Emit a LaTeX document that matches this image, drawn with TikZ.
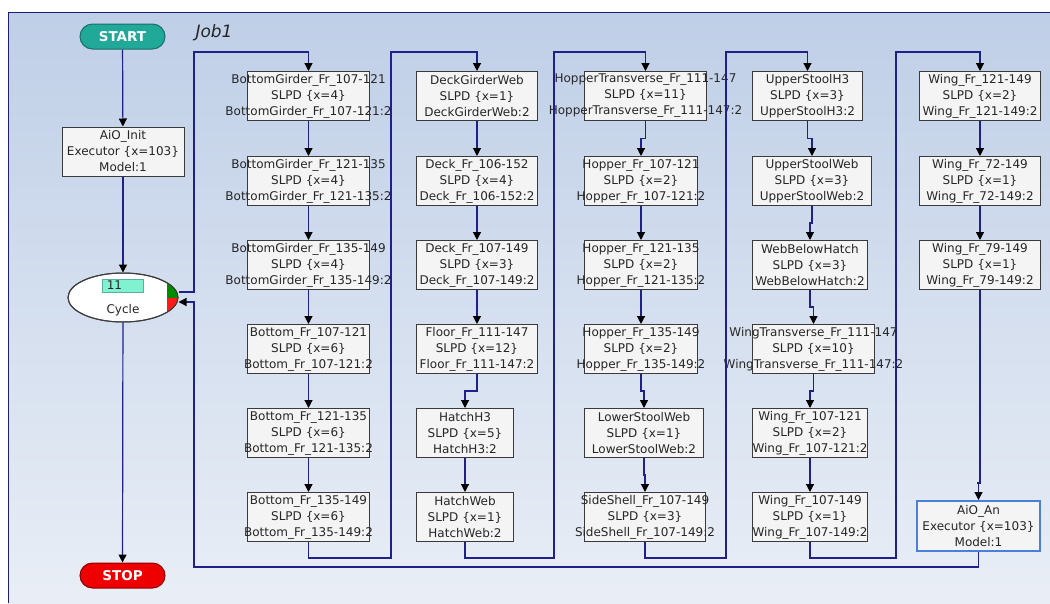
\documentclass[tikz,border=0pt]{standalone}
\usepackage{fontspec}
\setmainfont{DejaVu Sans}
\usetikzlibrary{positioning, arrows.meta, calc, shapes.geometric}
\definecolor{wfnavy}{HTML}{20208A}
\definecolor{wfframe}{HTML}{1F1F7A}
\definecolor{wfline}{HTML}{3A3A3A}
\definecolor{wffill}{HTML}{F4F4F4}
\definecolor{wftext}{HTML}{262626}
\definecolor{wfbgtop}{HTML}{BFCFE7}
\definecolor{wfbgbot}{HTML}{E9EEF6}
\definecolor{wfteal}{HTML}{20A898}
\definecolor{wftealdk}{HTML}{1B6F66}
\definecolor{wfred}{HTML}{EE0000}
\definecolor{wfreddk}{HTML}{8A0000}
\definecolor{wfanblue}{HTML}{4A80DA}
\definecolor{wfcount}{HTML}{80F2CF}
\definecolor{wfcountdk}{HTML}{5AAFA0}
\definecolor{wfgreen}{HTML}{008A00}
\definecolor{wfcapred}{HTML}{FF1A1A}

\begin{document}
\begin{tikzpicture}[x=1pt, y=-1pt,
    conn/.style={wfnavy, line width=1.2pt, -{Triangle[width=8pt, length=8pt, color=black]}},
    jobbox/.style={draw=wfline, fill=wffill, line width=1pt, anchor=north west,
      minimum height=49pt, inner sep=0pt},
    jobtext/.style={align=center, font=\fontsize{12}{16}\selectfont, text=wftext, inner sep=0pt},
    pill/.style={rounded corners=12.5pt, line width=1pt, minimum width=85pt, minimum height=25pt,
      inner sep=0pt, text=white, font=\fontsize{13.5}{16}\selectfont\bfseries}]
  % background
  \useasboundingbox (0,0) rectangle (1050,603);
  \fill[white] (0,0) rectangle (1050,603);
  \shade[top color=wfbgtop, bottom color=wfbgbot] (8,12) rectangle (1050,603);
  \draw[wfframe, line width=1pt] (8,603) |- (1050,12);
  \node[font=\fontsize{17}{20}\selectfont\itshape, text=wftext, anchor=west] (job) at (192,33) {Job1};

  % start, init, cycle, stop
  \node[pill, draw=wftealdk, fill=wfteal] (start) at (122.5,36.5) {START};
  \node[jobbox, anchor=center, minimum width=122pt, align=center,
    font=\fontsize{12}{16}\selectfont, text=wftext] (init) at (123,151.5)
    {AiO\_Init\\Executor \{x=103\}\\Model:1};
  \node[ellipse, draw=wfline, fill=white, line width=1pt, minimum width=110pt,
    minimum height=49pt, inner sep=0pt] (cyc) at (123,297.5) {};
  \begin{scope}
    \clip (cyc.center) ellipse [x radius=55, y radius=24.5];
    \fill[wfgreen] (167,280) rectangle (181,298);
    \fill[wfcapred] (167,298) rectangle (181,316);
  \end{scope}
  \draw[wfline, line width=1pt] (cyc.center) ellipse [x radius=55, y radius=24.5];
  \node[draw=wfcountdk, fill=wfcount, line width=0.8pt, minimum width=41pt,
    minimum height=13pt, inner sep=0pt] (cnt) at (122.5,285.5) {};
  \node[anchor=west, inner sep=0pt, font=\fontsize{12}{14}\selectfont, text=wftext]
    (cntval) at ([xshift=5pt]cnt.west) {11};
  \node[inner sep=0pt, font=\fontsize{12}{14}\selectfont, text=wftext] (cyctxt) at (123,310) {Cycle};
  \node[pill, draw=wfreddk, fill=wfred] (stop) at (122.5,575.5) {STOP};

  % column 1
  \node[jobbox, minimum width=122pt, label={[jobtext]center:{BottomGirder\_Fr\_107-121\\SLPD \{x=4\}\\BottomGirder\_Fr\_107-121:2}}] (b11) at (247,71) {};
  \node[jobbox, minimum width=122pt, label={[jobtext]center:{BottomGirder\_Fr\_121-135\\SLPD \{x=4\}\\BottomGirder\_Fr\_121-135:2}}] (b12) at (247,156) {};
  \node[jobbox, minimum width=122pt, label={[jobtext]center:{BottomGirder\_Fr\_135-149\\SLPD \{x=4\}\\BottomGirder\_Fr\_135-149:2}}] (b13) at (247,240) {};
  \node[jobbox, minimum width=122pt, label={[jobtext]center:{Bottom\_Fr\_107-121\\SLPD \{x=6\}\\Bottom\_Fr\_107-121:2}}] (b14) at (247,324) {};
  \node[jobbox, minimum width=122pt, label={[jobtext]center:{Bottom\_Fr\_121-135\\SLPD \{x=6\}\\Bottom\_Fr\_121-135:2}}] (b15) at (247,408) {};
  \node[jobbox, minimum width=122pt, label={[jobtext]center:{Bottom\_Fr\_135-149\\SLPD \{x=6\}\\Bottom\_Fr\_135-149:2}}] (b16) at (247,492) {};

  % column 2
  \node[jobbox, minimum width=121pt, label={[jobtext]center:{DeckGirderWeb\\SLPD \{x=1\}\\DeckGirderWeb:2}}] (b21) at (416,71) {};
  \node[jobbox, minimum width=121pt, label={[jobtext]center:{Deck\_Fr\_106-152\\SLPD \{x=4\}\\Deck\_Fr\_106-152:2}}] (b22) at (416,156) {};
  \node[jobbox, minimum width=121pt, label={[jobtext]center:{Deck\_Fr\_107-149\\SLPD \{x=3\}\\Deck\_Fr\_107-149:2}}] (b23) at (416,240) {};
  \node[jobbox, minimum width=121pt, label={[jobtext]center:{Floor\_Fr\_111-147\\SLPD \{x=12\}\\Floor\_Fr\_111-147:2}}] (b24) at (416,324) {};
  \node[jobbox, minimum width=97pt, label={[jobtext]center:{HatchH3\\SLPD \{x=5\}\\HatchH3:2}}] (b25) at (416,408) {};
  \node[jobbox, minimum width=97pt, label={[jobtext]center:{HatchWeb\\SLPD \{x=1\}\\HatchWeb:2}}] (b26) at (416,492) {};

  % column 3
  \node[jobbox, minimum width=122pt, label={[jobtext]center:{HopperTransverse\_Fr\_111-147\\SLPD \{x=11\}\\HopperTransverse\_Fr\_111-147:2}}] (b31) at (584,71) {};
  \node[jobbox, minimum width=113pt, label={[jobtext]center:{Hopper\_Fr\_107-121\\SLPD \{x=2\}\\Hopper\_Fr\_107-121:2}}] (b32) at (584,156) {};
  \node[jobbox, minimum width=113pt, label={[jobtext]center:{Hopper\_Fr\_121-135\\SLPD \{x=2\}\\Hopper\_Fr\_121-135:2}}] (b33) at (584,240) {};
  \node[jobbox, minimum width=113pt, label={[jobtext]center:{Hopper\_Fr\_135-149\\SLPD \{x=2\}\\Hopper\_Fr\_135-149:2}}] (b34) at (584,324) {};
  \node[jobbox, minimum width=119pt, label={[jobtext]center:{LowerStoolWeb\\SLPD \{x=1\}\\LowerStoolWeb:2}}] (b35) at (584,408) {};
  \node[jobbox, minimum width=121pt, label={[jobtext]center:{SideShell\_Fr\_107-149\\SLPD \{x=3\}\\SideShell\_Fr\_107-149:2}}] (b36) at (584,492) {};

  % column 4
  \node[jobbox, minimum width=110pt, label={[jobtext]center:{UpperStoolH3\\SLPD \{x=3\}\\UpperStoolH3:2}}] (b41) at (752,71) {};
  \node[jobbox, minimum width=119pt, label={[jobtext]center:{UpperStoolWeb\\SLPD \{x=3\}\\UpperStoolWeb:2}}] (b42) at (752,156) {};
  \node[jobbox, minimum width=115pt, label={[jobtext]center:{WebBelowHatch\\SLPD \{x=3\}\\WebBelowHatch:2}}] (b43) at (752,240) {};
  \node[jobbox, minimum width=122pt, label={[jobtext]center:{WingTransverse\_Fr\_111-147\\SLPD \{x=10\}\\WingTransverse\_Fr\_111-147:2}}] (b44) at (752,324) {};
  \node[jobbox, minimum width=115pt, label={[jobtext]center:{Wing\_Fr\_107-121\\SLPD \{x=2\}\\Wing\_Fr\_107-121:2}}] (b45) at (752,408) {};
  \node[jobbox, minimum width=115pt, label={[jobtext]center:{Wing\_Fr\_107-149\\SLPD \{x=1\}\\Wing\_Fr\_107-149:2}}] (b46) at (752,492) {};

  % column 5
  \node[jobbox, minimum width=121pt, label={[jobtext]center:{Wing\_Fr\_121-149\\SLPD \{x=2\}\\Wing\_Fr\_121-149:2}}] (b51) at (919,71) {};
  \node[jobbox, minimum width=121pt, label={[jobtext]center:{Wing\_Fr\_72-149\\SLPD \{x=1\}\\Wing\_Fr\_72-149:2}}] (b52) at (919,156) {};
  \node[jobbox, minimum width=121pt, label={[jobtext]center:{Wing\_Fr\_79-149\\SLPD \{x=1\}\\Wing\_Fr\_79-149:2}}] (b53) at (919,240) {};
  \node[jobbox, draw=wfanblue, line width=2pt, minimum width=123pt, minimum height=50pt,
    label={[jobtext]center:{AiO\_An\\Executor \{x=103\}\\Model:1}}] (ban) at (916,500) {};

  % turning points of the long connectors
  \coordinate (jc1) at (194,52);
  \coordinate (jr1) at (194,567);
  \coordinate (j1b) at (391,558);
  \coordinate (j1t) at (391,52);
  \coordinate (j2b) at (554,558);
  \coordinate (j2t) at (554,52);
  \coordinate (j3b) at (726,558);
  \coordinate (j3t) at (726,52);
  \coordinate (j4b) at (896,558);
  \coordinate (j4t) at (896,52);
  \coordinate (j5a) at (977,483);

  % connectors
  \draw[conn] (start) -- (init);
  \draw[conn] (init) -- (cyc);
  \draw[conn] (cyc) -- (stop);
  \draw[conn] ([yshift=5.5pt]cyc.east) -| (jc1) -| (b11.north);
  \foreach \c in {1,2,3,4} {
    \foreach \r [evaluate=\r as \n using int(\r+1)] in {1,2,3,4,5} {
      \draw[conn] (b\c\r.south) |- ($(b\c\r.south)!.5!(b\c\n.north)$) -| (b\c\n.north);
    }
  }
  \draw[conn] (b51.south) |- ($(b51.south)!.5!(b52.north)$) -| (b52.north);
  \draw[conn] (b52.south) |- ($(b52.south)!.5!(b53.north)$) -| (b53.north);
  \draw[conn] (b53.south) |- (j5a) -| (ban.north);
  \draw[conn] (b16.south) |- (j1b) -- (j1t) -| (b21.north);
  \draw[conn] (b26.south) |- (j2b) -- (j2t) -| (b31.north);
  \draw[conn] (b36.south) |- (j3b) -- (j3t) -| (b41.north);
  \draw[conn] (b46.south) |- (j4b) -- (j4t) -| (b51.north);
  \draw[conn] (ban.south) |- (jr1) |- ([yshift=-4.5pt]cyc.east);
\end{tikzpicture}
\end{document}
